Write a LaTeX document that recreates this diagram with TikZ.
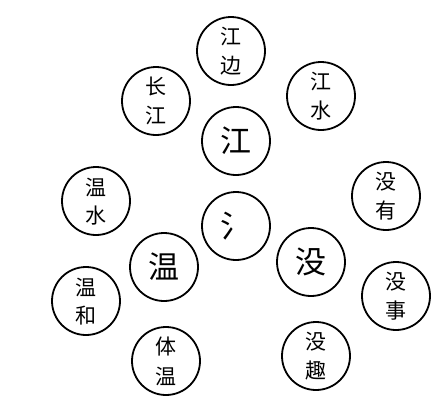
\documentclass[tikz,border=0pt]{standalone}
\usepackage{fontspec}
\newfontfamily\cjk{Noto Sans CJK SC}
\begin{document}
\begin{tikzpicture}[x=1pt,y=-1pt,
  ring/.style={circle,draw=black,line width=1.8pt,minimum size=68pt,inner sep=0pt},
  big/.style={font=\cjk\fontsize{31}{31}\selectfont},
  small/.style={font=\cjk\fontsize{21}{21}\selectfont}]
\useasboundingbox[fill=white] (0,0) rectangle (448,416);
\node[ring] (jb) at (231,51) {};
\node[ring] (cj) at (156,101) {};
\node[ring] (js) at (321,96) {};
\node[ring] (j) at (236,141) {};
\node[ring] (ws) at (96,201) {};
\node[ring] (my) at (386,196) {};
\node[ring] (sd) at (236,226) {};
\node[ring] (w) at (164,267) {};
\node[ring] (m) at (311,262) {};
\node[ring] (wh) at (86,301) {};
\node[ring] (ms) at (396,296) {};
\node[ring] (tw) at (166,361) {};
\node[ring] (mq) at (316,356) {};
% texts
\node[big] (tj) at (j) {江};
\node[big] (tsd) at (sd) {氵};
\node[big] (tw1) at (w) {温};
\node[big] (tm) at (m) {没};
\node[small] (a1) at ([yshift=14]jb.center) {江};
\node[small] (a2) at ([yshift=-15]jb.center) {边};
\node[small] (b1) at ([yshift=14]cj.center) {长};
\node[small] (b2) at ([yshift=-15]cj.center) {江};
\node[small] (c1) at ([yshift=14]js.center) {江};
\node[small] (c2) at ([yshift=-15]js.center) {水};
\node[small] (d1) at ([yshift=14]ws.center) {温};
\node[small] (d2) at ([yshift=-15]ws.center) {水};
\node[small] (e1) at ([yshift=14]my.center) {没};
\node[small] (e2) at ([yshift=-15]my.center) {有};
\node[small] (f1) at ([yshift=14]wh.center) {温};
\node[small] (f2) at ([yshift=-15]wh.center) {和};
\node[small] (g1) at ([yshift=14]ms.center) {没};
\node[small] (g2) at ([yshift=-15]ms.center) {事};
\node[small] (h1) at ([yshift=14]tw.center) {体};
\node[small] (h2) at ([yshift=-15]tw.center) {温};
\node[small] (i1) at ([yshift=14]mq.center) {没};
\node[small] (i2) at ([yshift=-15]mq.center) {趣};
\end{tikzpicture}
\end{document}
